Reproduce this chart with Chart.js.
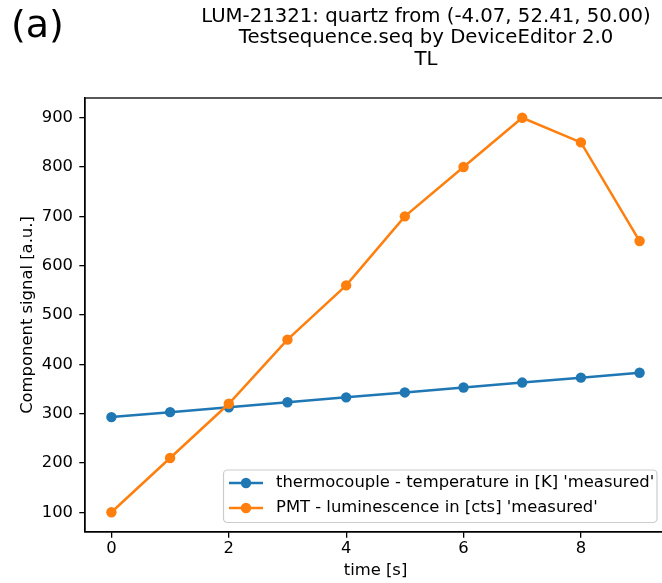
<!DOCTYPE html>
<html>
<head>
<meta charset="utf-8">
<title>TL</title>
<script src="https://cdn.jsdelivr.net/npm/chart.js@4.4.1/dist/chart.umd.min.js"></script>
<style>
  html, body { margin: 0; padding: 0; background: #fff; overflow: hidden; }
  #wrap { position: relative; width: 662px; height: 583px; overflow: hidden; }
  canvas { display: block; }
</style>
</head>
<body>
<div id="wrap">
  <canvas id="chart" width="672" height="583"></canvas>
</div>
<script>
// data
const timeSeconds = [0, 1, 2, 3, 4, 5, 6, 7, 8, 9];
const thermocouple = [293, 303, 313, 323, 333, 343, 353, 363, 373, 383];
const luminescence = [100, 210, 320, 450, 560, 700, 800, 900, 850, 650];
const xTickValues = [0, 2, 4, 6, 8];
const yTickValues = [100, 200, 300, 400, 500, 600, 700, 800, 900];

const panelLabel = "(a)";
const titleLines = [
  "LUM-21321: quartz from (-4.07, 52.41, 50.00)",
  "Testsequence.seq by DeviceEditor 2.0",
  "TL"
];
const seriesLabels = [
  "thermocouple - temperature in [K] 'measured'",
  "PMT - luminescence in [cts] 'measured'"
];

const FONT = "'DejaVu Sans', sans-serif";
const TICK_SIZE = 16.4;
const BLUE = "#1f77b4";
const ORANGE = "#ff7f0e";

// ---------- titel + "(a)" + rahmen ----------
const decorPlugin = {
  id: "decor",
  afterDraw(chart) {
    const ctx = chart.ctx;
    const a = chart.chartArea;
    ctx.save();
    // rahmen wie bei matplotlib (alle vier seiten)
    ctx.strokeStyle = "#000";
    ctx.lineWidth = 1.3;
    ctx.strokeRect(a.left, a.top, a.right - a.left, a.bottom - a.top);

    ctx.fillStyle = "#000";
    ctx.font = "38px " + FONT;
    ctx.textAlign = "left";
    ctx.textBaseline = "alphabetic";
    ctx.fillText(panelLabel, 11, 37);

    ctx.font = "19.7px " + FONT;
    ctx.textAlign = "center";
    ctx.textBaseline = "middle";
    titleLines.forEach((line, i) => ctx.fillText(line, 426, 16.5 + i * 21.6));
    ctx.restore();
  }
};

// ---------- legende unten rechts im plot ----------
const legendPlugin = {
  id: "innerLegend",
  afterDatasetsDraw(chart) {
    const ctx = chart.ctx;
    const box = { x: 223.5, y: 470, w: 433.5, h: 52.5 };
    ctx.save();
    ctx.beginPath();
    ctx.roundRect(box.x, box.y, box.w, box.h, 4);
    ctx.fillStyle = "rgba(255,255,255,0.8)";
    ctx.fill();
    ctx.strokeStyle = "#cccccc";
    ctx.lineWidth = 1.2;
    ctx.stroke();

    const legendOrder = [0, 1];
    legendOrder.forEach((dsIndex, row) => {
      const ds = chart.data.datasets[dsIndex];
      const y = 483 + row * 25;
      ctx.strokeStyle = ds.borderColor;
      ctx.lineWidth = ds.borderWidth;
      ctx.beginPath();
      ctx.moveTo(229, y);
      ctx.lineTo(263, y);
      ctx.stroke();
      ctx.fillStyle = ds.backgroundColor;
      ctx.beginPath();
      ctx.arc(246, y, ds.pointRadius, 0, Math.PI * 2);
      ctx.fill();

      ctx.fillStyle = "#000";
      ctx.font = TICK_SIZE + "px " + FONT;
      ctx.textAlign = "left";
      ctx.textBaseline = "middle";
      ctx.fillText(ds.label, 276, y);
    });
    ctx.restore();
  }
};

const ctx = document.getElementById("chart");
new Chart(ctx, {
  type: "line",
  data: {
    datasets: [
      {
        label: seriesLabels[0],
        data: timeSeconds.map((t, i) => ({ x: t, y: thermocouple[i] })),
        borderColor: BLUE,
        backgroundColor: BLUE,
        borderWidth: 2.5,
        pointRadius: 5.2,
        pointBorderWidth: 0,
        pointHoverRadius: 5.2,
        tension: 0,
        order: 1
      },
      {
        label: seriesLabels[1],
        data: timeSeconds.map((t, i) => ({ x: t, y: luminescence[i] })),
        borderColor: ORANGE,
        backgroundColor: ORANGE,
        borderWidth: 2.5,
        pointRadius: 5.2,
        pointBorderWidth: 0,
        pointHoverRadius: 5.2,
        tension: 0,
        order: 0
      }
    ]
  },
  options: {
    responsive: false,
    animation: false,
    devicePixelRatio: 1,
    layout: { padding: { top: 98, right: 6, left: 0, bottom: 0 } },
    plugins: {
      legend: { display: false },
      title: { display: false },
      tooltip: { enabled: false }
    },
    scales: {
      x: {
        type: "linear",
        min: -0.45,
        max: 9.45,
        afterBuildTicks: scale => { scale.ticks = xTickValues.map(v => ({ value: v })); },
        afterFit: scale => { scale.height = 51; },
        grid: { display: true, drawOnChartArea: false, drawTicks: true, tickLength: 5.7, color: "#000", lineWidth: 1.3 },
        border: { display: true, color: "#000", width: 1.3 },
        ticks: { color: "#000", font: { family: FONT, size: TICK_SIZE }, padding: 1.5, maxRotation: 0 },
        title: {
          display: true,
          text: "time [s]",
          color: "#000",
          font: { family: FONT, size: TICK_SIZE },
          padding: { top: 0, bottom: 2 }
        }
      },
      y: {
        type: "linear",
        min: 60,
        max: 940,
        afterBuildTicks: scale => { scale.ticks = yTickValues.map(v => ({ value: v })); },
        afterFit: scale => { scale.width = 85; },
        grid: { display: true, drawOnChartArea: false, drawTicks: true, tickLength: 5.7, color: "#000", lineWidth: 1.3 },
        border: { display: true, color: "#000", width: 1.3 },
        ticks: { color: "#000", font: { family: FONT, size: TICK_SIZE }, padding: 6.3 },
        title: {
          display: true,
          text: "Component signal [a.u.]",
          color: "#000",
          font: { family: FONT, size: TICK_SIZE },
          padding: { top: 18, bottom: 0 }
        }
      }
    }
  },
  plugins: [decorPlugin, legendPlugin]
});
</script>
</body>
</html>
